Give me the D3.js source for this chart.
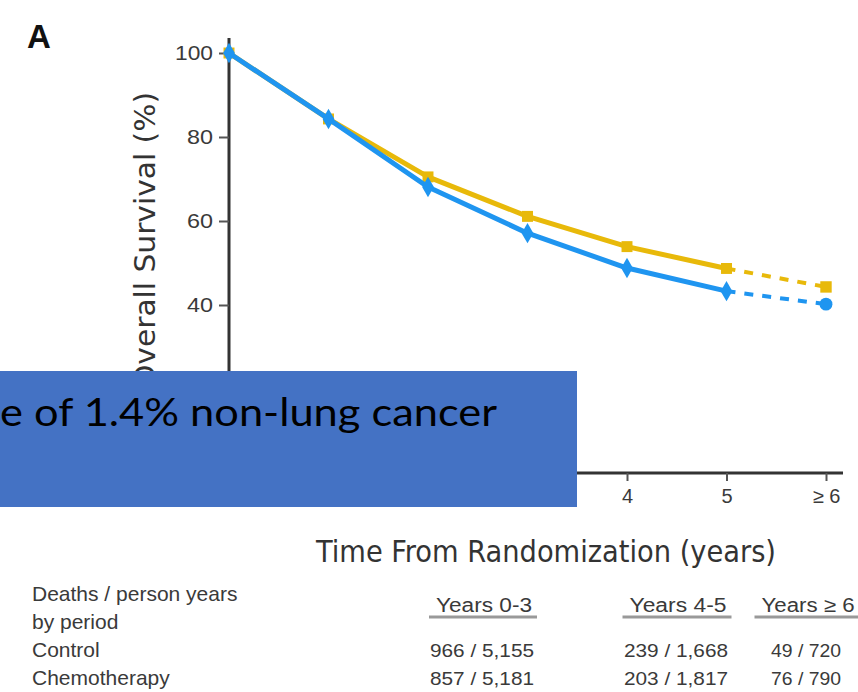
<!DOCTYPE html>
<html>
<head>
<meta charset="utf-8">
<script src="https://cdn.jsdelivr.net/npm/d3@7"></script>
<style>
  html, body { margin: 0; padding: 0; background: #fff; }
  svg { display: block; }
</style>
</head>
<body>
<svg id="chart"></svg>
<script>
'use strict';
// survival curves
const YEARS = [0, 1, 2, 3, 4, 5, 6];
const X_TICK_LABELS = ['0', '1', '2', '3', '4', '5', '\u2265 6'];
const Y_TICKS = [40, 60, 80, 100];
const CONTROL = [100, 84.3, 68.1, 57.1, 48.8, 43.3, 40.2];
const CHEMO = [100, 84.3, 70.5, 61.1, 53.9, 48.7, 44.3];

const TABLE_HEADERS = ['Years 0-3', 'Years 4-5', 'Years \u2265 6'];
const TABLE_ROWS = ['Control', 'Chemotherapy'];
const CONTROL_CELLS = ['966 / 5,155', '239 / 1,668', '49 / 720'];
const CHEMO_CELLS = ['857 / 5,181', '203 / 1,817', '76 / 790'];

const WIDTH = 858,
      HEIGHT = 692,
      BLUE = '#1f95f0',
      YELLOW = '#e8b90a',
      AXIS = '#333',
      TEXT = '#3a3a3a',
      SANS = 'Liberation Sans, Arial, sans-serif',
      NARROW = 'Liberation Sans Narrow, DejaVu Sans Condensed, sans-serif';

let svg = d3.select('#chart')
  .attr('width', WIDTH)
  .attr('height', HEIGHT)
  .style('font-family', SANS);

let xScale = d3.scaleLinear().domain([0, 6]).range([229, 826]);
let yScale = d3.scaleLinear().domain([0, 100]).range([473, 53]);

// panel letter
svg.append('text')
  .attr('x', 27)
  .attr('y', 48)
  .attr('font-size', 33)
  .attr('font-weight', 'bold')
  .attr('fill', '#111')
  .text('A');

// y axis
let yAxis = d3.axisLeft(yScale)
  .tickValues(Y_TICKS)
  .tickSize(10)
  .tickPadding(6)
  .tickSizeOuter(0);
let yg = svg.append('g')
  .attr('transform', 'translate(' + xScale(0) + ',0)')
  .call(yAxis);
yg.select('.domain')
  .attr('d', 'M0,38V' + (yScale(0) + 1.5))
  .attr('stroke', AXIS)
  .attr('stroke-width', 3);
yg.selectAll('.tick line').attr('stroke', '#555').attr('stroke-width', 2);
yg.selectAll('.tick text')
  .attr('font-size', 21)
  .attr('fill', TEXT)
  .attr('textLength', function(d) { return d == 100 ? 38 : 26 })
  .attr('lengthAdjust', 'spacingAndGlyphs')
  .style('font-family', SANS);

// x axis
let xAxis = d3.axisBottom(xScale)
  .tickValues(YEARS)
  .tickFormat(function(d, i) { return X_TICK_LABELS[i] })
  .tickSize(8)
  .tickPadding(8)
  .tickSizeOuter(0);
let xg = svg.append('g')
  .attr('transform', 'translate(0,' + yScale(0) + ')')
  .call(xAxis);
xg.select('.domain')
  .attr('d', 'M' + (xScale(0) - 1.5) + ',0H843')
  .attr('stroke', AXIS)
  .attr('stroke-width', 3);
xg.selectAll('.tick line').attr('stroke', '#555').attr('stroke-width', 2);
xg.selectAll('.tick text')
  .attr('font-size', 20)
  .attr('fill', TEXT)
  .style('font-family', SANS);

// axis titles
svg.append('text')
  .attr('transform', 'translate(155,240) rotate(-90)')
  .attr('text-anchor', 'middle')
  .attr('font-size', 28)
  .attr('fill', '#333')
  .attr('textLength', 296)
  .attr('lengthAdjust', 'spacingAndGlyphs')
  .style('font-family', NARROW)
  .text('Overall Survival (%)');

svg.append('text')
  .attr('x', 546)
  .attr('y', 562)
  .attr('text-anchor', 'middle')
  .attr('font-size', 30)
  .attr('fill', '#333')
  .attr('textLength', 460)
  .attr('lengthAdjust', 'spacingAndGlyphs')
  .style('font-family', NARROW)
  .text('Time From Randomization (years)');

// curves: solid to year 5, dashed after
function drawCurve(values, colour, markerShape, endShape) {
  let pts = values.map(function(v, i) { return [YEARS[i], v] });
  let line = d3.line()
    .x(function(d) { return xScale(d[0]) })
    .y(function(d) { return yScale(d[1]) });

  svg.append('path')
    .datum(pts.slice(0, 6))
    .attr('d', line)
    .attr('fill', 'none')
    .attr('stroke', colour)
    .attr('stroke-width', 5)
    .attr('stroke-linejoin', 'round');

  svg.append('path')
    .datum(pts.slice(5))
    .attr('d', line)
    .attr('fill', 'none')
    .attr('stroke', colour)
    .attr('stroke-width', 4)
    .attr('stroke-dasharray', '9,9');

  svg.append('g').selectAll('path')
    .data(pts)
    .enter()
    .append('path')
    .attr('transform', function(d) { return 'translate(' + xScale(d[0]) + ',' + yScale(d[1]) + ')' })
    .attr('d', function(d, i) {
      // end points are round / square in the figure
      if (i == pts.length - 1) return d3.symbol().type(endShape).size(130)();
      return d3.symbol().type(markerShape).size(120)();
    })
    .attr('fill', colour);
}

drawCurve(CHEMO, YELLOW, d3.symbolSquare, d3.symbolSquare);
drawCurve(CONTROL, BLUE, d3.symbolDiamond, d3.symbolCircle);

// table of deaths / person years
let colX = [484, 678, 808];
let headerWidth = [96, 97, 93];
let cellWidth = [104, 104, 70];
let table = svg.append('g')
  .attr('fill', TEXT)
  .style('font-family', SANS);

table.append('text').attr('x', 32).attr('y', 601).attr('font-size', 21).text('Deaths / person years');
table.append('text').attr('x', 32).attr('y', 629).attr('font-size', 21).text('by period');

let header = table.selectAll('.hdr')
  .data(TABLE_HEADERS)
  .enter()
  .append('text')
  .attr('class', 'hdr')
  .attr('x', function(d, i) { return colX[i] })
  .attr('y', 612)
  .attr('font-size', 20)
  .attr('text-anchor', 'middle')
  .attr('textLength', function(d, i) { return headerWidth[i] })
  .attr('lengthAdjust', 'spacingAndGlyphs')
  .text(function(d) { return d });

header.each(function(d, i) {
  table.append('line')
    .attr('x1', colX[i] - headerWidth[i] / 2 - 7)
    .attr('x2', colX[i] + headerWidth[i] / 2 + 5)
    .attr('y1', 617)
    .attr('y2', 617)
    .attr('stroke', '#999')
    .attr('stroke-width', 3);
});

let rowY = [657, 685];
let rowCells = [CONTROL_CELLS, CHEMO_CELLS];
TABLE_ROWS.forEach(function(name, r) {
  table.append('text').attr('x', 32).attr('y', rowY[r]).attr('font-size', 21).text(name);
  table.selectAll('.row' + r)
    .data(rowCells[r])
    .enter()
    .append('text')
    .attr('class', 'row' + r)
    .attr('x', function(d, i) { return colX[i] - 2 })
    .attr('y', rowY[r])
    .attr('font-size', 19)
    .attr('text-anchor', 'middle')
    .attr('textLength', function(d, i) { return cellWidth[i] })
    .attr('lengthAdjust', 'spacingAndGlyphs')
    .text(function(d) { return d });
});

// slide overlay box covering part of the figure
svg.append('rect')
  .attr('x', 0)
  .attr('y', 371)
  .attr('width', 577)
  .attr('height', 136)
  .attr('fill', '#4472c4');

svg.append('text')
  .attr('x', 497)
  .attr('y', 426)
  .attr('text-anchor', 'end')
  .attr('font-size', 39)
  .attr('fill', '#000')
  .attr('textLength', 497)
  .attr('lengthAdjust', 'spacingAndGlyphs')
  .style('font-family', 'Lato, Carlito, sans-serif')
  .text('e of 1.4% non-lung cancer');
</script>
</body>
</html>
